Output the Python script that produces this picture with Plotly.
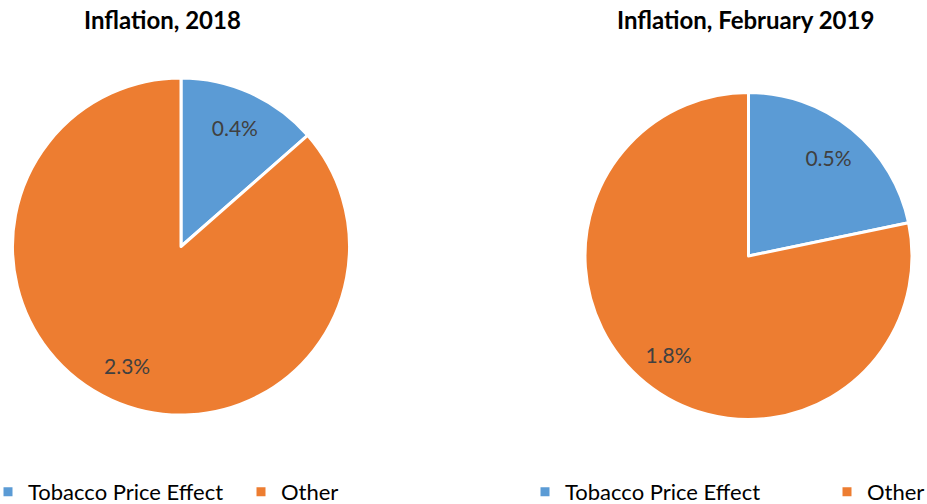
import plotly.graph_objects as go

labels = ["Tobacco Price Effect", "Other"]
values_2018 = [0.36, 2.3]
values_feb2019 = [0.5, 1.8]
titles = ["Inflation, 2018", "Inflation, February 2019"]
colors = ["#5B9BD5", "#ED7D31"]

W, H = 927, 504
FONT = "Lato"

fig = go.Figure()

def add_pie(values, dom, legend_id, group):
    # full pie (colours, separators, legend)
    fig.add_trace(go.Pie(
        labels=labels, values=values, sort=False, direction="clockwise", rotation=0,
        marker=dict(colors=colors, line=dict(color="white", width=3)),
        textinfo="none", domain=dom, showlegend=True,
        hoverinfo="label+value", legend=legend_id, legendgroup=group,
    ))
    # transparent ring on top carrying the value labels at ~0.77 radius
    fig.add_trace(go.Pie(
        labels=labels, values=values, sort=False, direction="clockwise", rotation=0, hole=0.55,
        marker=dict(colors=["rgba(0,0,0,0)"] * len(labels), line=dict(width=0)),
        texttemplate="%{value:.1f}%", textposition="inside", insidetextorientation="horizontal",
        textfont=dict(family=FONT, size=21, color="#404040"),
        domain=dom, hoverinfo="skip", showlegend=False,
    ))

add_pie(values_2018, dict(x=[12/W, 350/W], y=[1-415/H, 1-78/H]), "legend", "a")
add_pie(values_feb2019, dict(x=[585/W, 912/W], y=[1-420/H, 1-92/H]), "legend2", "b")

fig.add_annotation(text="<b>" + titles[0] + "</b>", x=162/W, y=1-20/H, xref="paper", yref="paper",
                   showarrow=False, xanchor="center", yanchor="middle",
                   font=dict(family=FONT, size=24, color="#000000"))
fig.add_annotation(text="<b>" + titles[1] + "</b>", x=745/W, y=1-20/H, xref="paper", yref="paper",
                   showarrow=False, xanchor="center", yanchor="middle",
                   font=dict(family=FONT, size=24, color="#000000"))

leg = dict(orientation="h", xanchor="left", yanchor="middle", y=1-492/H, traceorder="normal",
           font=dict(family=FONT, size=22, color="#000000"), bgcolor="rgba(0,0,0,0)",
           entrywidthmode="pixels", itemwidth=30, tracegroupgap=0)
fig.update_layout(
    width=W, height=H, margin=dict(l=0, r=0, t=0, b=0, autoexpand=False),
    paper_bgcolor="white", plot_bgcolor="white",
    legend=dict(leg, x=0, indentation=-12, entrywidth=220),
    legend2=dict(leg, x=525/W, entrywidth=257),
)
fig.write_html("out.html", config={"displayModeBar": False},
               post_script="document.body.style.margin='0';")
